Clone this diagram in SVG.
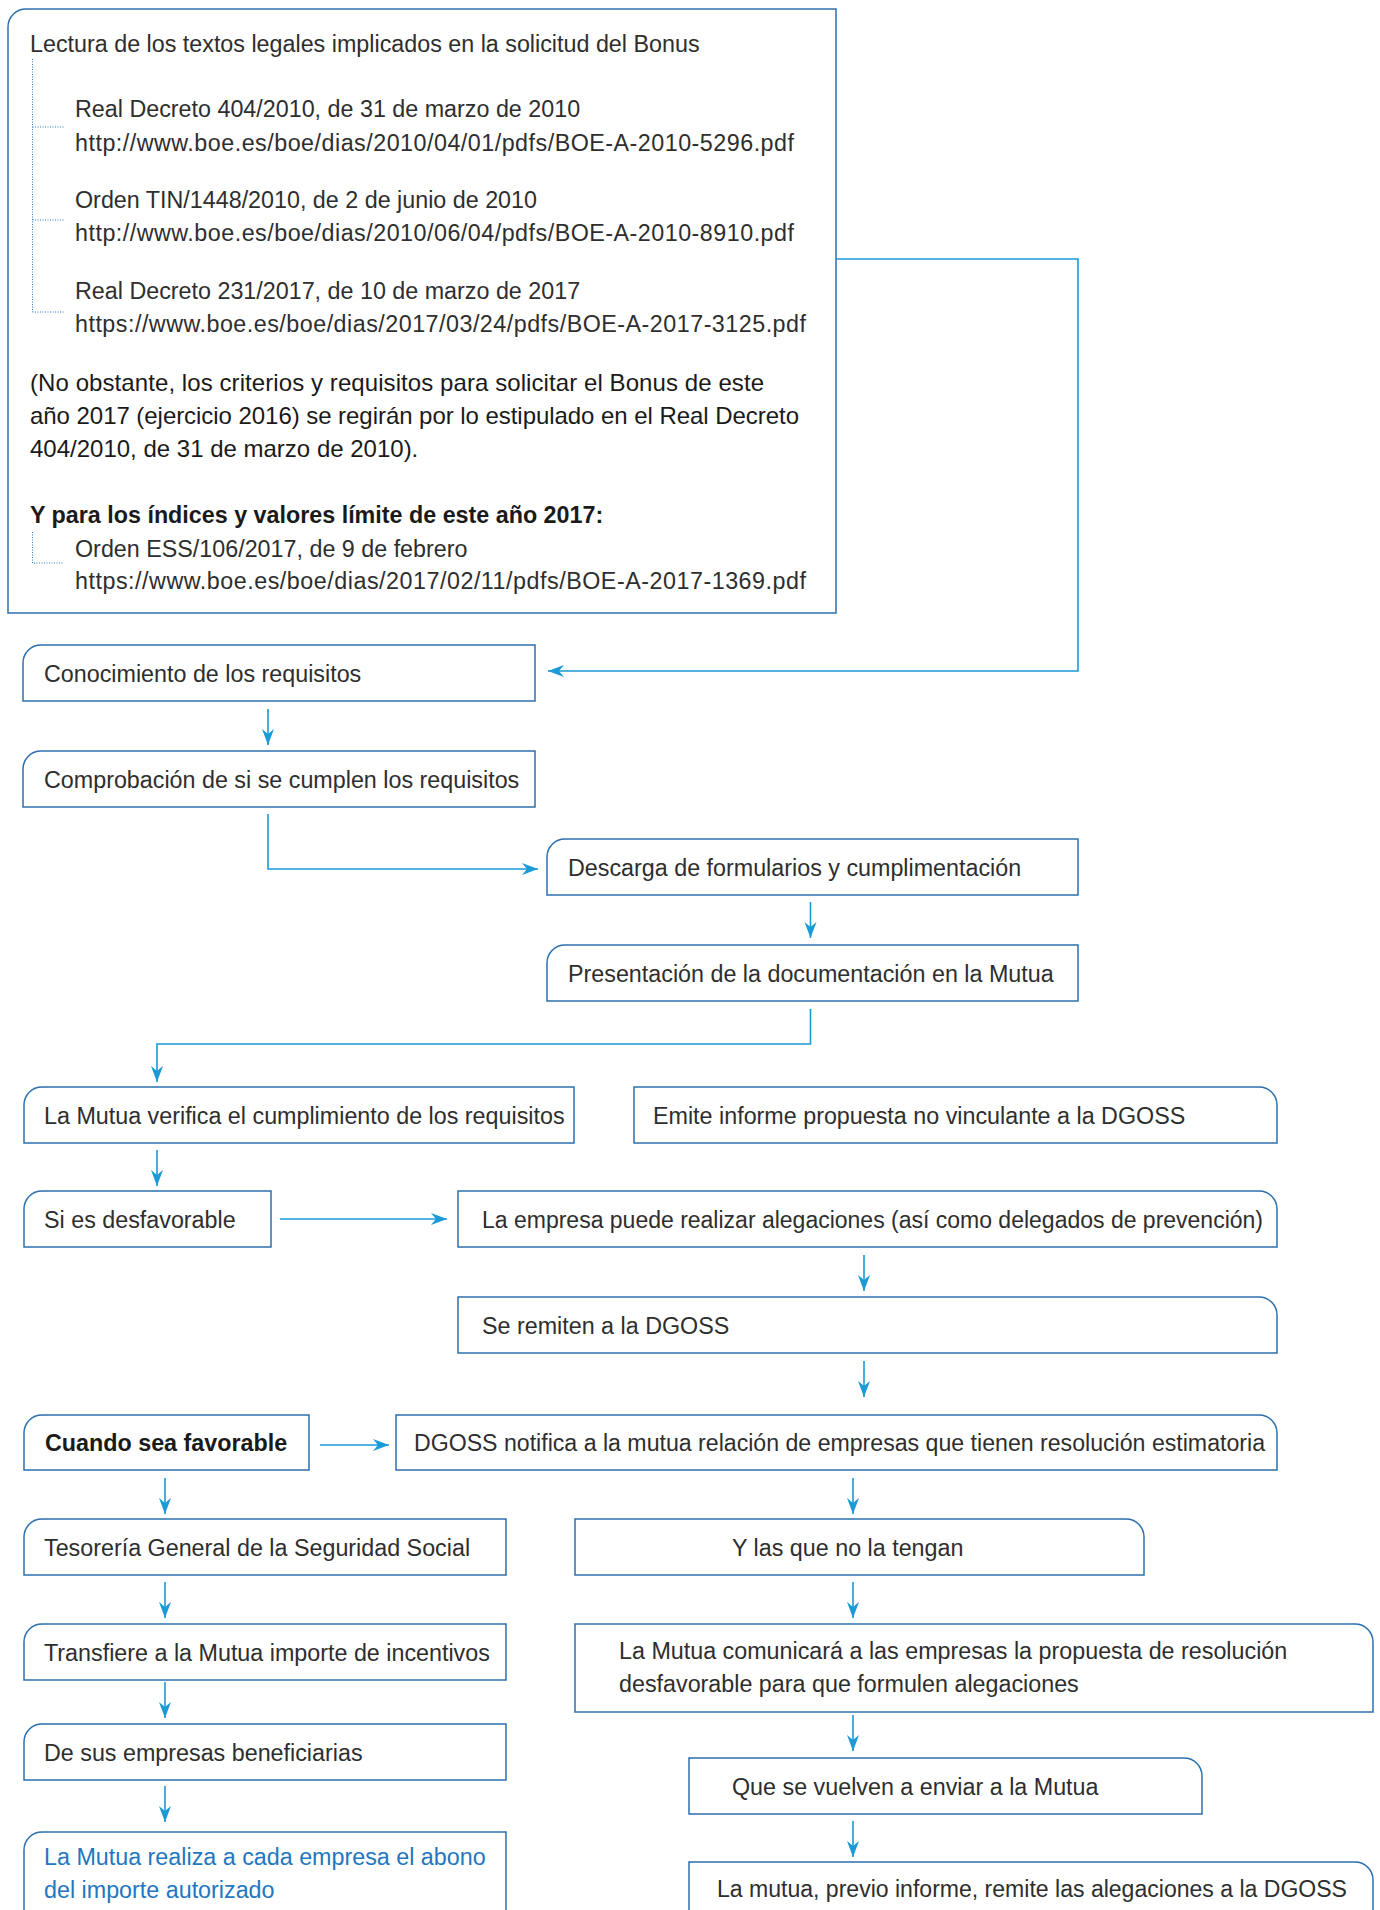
<svg xmlns="http://www.w3.org/2000/svg" width="1380" height="1910" viewBox="0 0 1380 1910">
<defs>
<style>
.box{fill:#ffffff;stroke:#2c6fae;stroke-width:1.5}
.t{font-family:"Liberation Sans",Arial,Helvetica,sans-serif;font-size:23.3px;fill:#2e2e2e}
.p{fill:#1a1a1a;font-size:24px}
.b{font-weight:bold;fill:#1a1a1a}
.blue{fill:#2277c0}
.con{fill:none;stroke:#1a9ad7;stroke-width:1.6}
.dot{fill:none;stroke:#2a7cc4;stroke-width:1;stroke-dasharray:1 1.5}
</style>
<marker id="ah" markerUnits="userSpaceOnUse" markerWidth="20" markerHeight="16" viewBox="-18 -8 20 16" refX="0" refY="0" orient="auto">
<path d="M0,0 L-16,-6 L-11,0 L-16,6 Z" fill="#1a9ad7"/>
</marker>
</defs>

<g id="connectors">
<path class="con" d="M836,259 H1078 V671 H548" marker-end="url(#ah)"/>
<path class="con" d="M268,709 V745" marker-end="url(#ah)"/>
<path class="con" d="M268,814 V869 H538" marker-end="url(#ah)"/>
<path class="con" d="M810.5,902 V938" marker-end="url(#ah)"/>
<path class="con" d="M810.5,1009 V1044 H157 V1082" marker-end="url(#ah)"/>
<path class="con" d="M157,1150 V1186" marker-end="url(#ah)"/>
<path class="con" d="M280,1219 H447" marker-end="url(#ah)"/>
<path class="con" d="M864,1255 V1291" marker-end="url(#ah)"/>
<path class="con" d="M864,1361 V1397" marker-end="url(#ah)"/>
<path class="con" d="M320,1445 H389" marker-end="url(#ah)"/>
<path class="con" d="M165,1478 V1514" marker-end="url(#ah)"/>
<path class="con" d="M853,1478 V1514" marker-end="url(#ah)"/>
<path class="con" d="M165,1582 V1618" marker-end="url(#ah)"/>
<path class="con" d="M853,1582 V1618" marker-end="url(#ah)"/>
<path class="con" d="M165,1682 V1718" marker-end="url(#ah)"/>
<path class="con" d="M853,1715 V1751" marker-end="url(#ah)"/>
<path class="con" d="M165,1786 V1822" marker-end="url(#ah)"/>
<path class="con" d="M853,1821 V1857" marker-end="url(#ah)"/>
</g>

<g id="n-lectura">
<path class="box" d="M8,613 V27 A18,18 0 0 1 26,9 H836 V613 Z"/>
<path class="dot" d="M32.5,59 V312 M32.5,127 H64 M32.5,220 H64 M32.5,312 H64 M32.5,532 V563 H64"/>
<text class="t" x="30" y="52">Lectura de los textos legales implicados en la solicitud del Bonus</text>
<text class="t" x="75" y="117">Real Decreto 404/2010, de 31 de marzo de 2010</text>
<text class="t" x="75" y="151" textLength="719" lengthAdjust="spacing">http://www.boe.es/boe/dias/2010/04/01/pdfs/BOE-A-2010-5296.pdf</text>
<text class="t" x="75" y="208">Orden TIN/1448/2010, de 2 de junio de 2010</text>
<text class="t" x="75" y="241" textLength="719" lengthAdjust="spacing">http://www.boe.es/boe/dias/2010/06/04/pdfs/BOE-A-2010-8910.pdf</text>
<text class="t" x="75" y="299">Real Decreto 231/2017, de 10 de marzo de 2017</text>
<text class="t" x="75" y="332" textLength="731" lengthAdjust="spacing">https://www.boe.es/boe/dias/2017/03/24/pdfs/BOE-A-2017-3125.pdf</text>
<text class="t p" x="30" y="391" textLength="734" lengthAdjust="spacing">(No obstante, los criterios y requisitos para solicitar el Bonus de este</text>
<text class="t p" x="30" y="424" textLength="769" lengthAdjust="spacing">año 2017 (ejercicio 2016) se regirán por lo estipulado en el Real Decreto</text>
<text class="t p" x="30" y="457">404/2010, de 31 de marzo de 2010).</text>
<text class="t b" x="30" y="523">Y para los índices y valores límite de este año 2017:</text>
<text class="t" x="75" y="557">Orden ESS/106/2017, de 9 de febrero</text>
<text class="t" x="75" y="589" textLength="731" lengthAdjust="spacing">https://www.boe.es/boe/dias/2017/02/11/pdfs/BOE-A-2017-1369.pdf</text>
</g>

<g id="n-conocimiento">
<path class="box" d="M23,701 V663 A18,18 0 0 1 41,645 H535 V701 Z"/>
<text class="t" x="44" y="681.5">Conocimiento de los requisitos</text>
</g>

<g id="n-comprobacion">
<path class="box" d="M23,807 V769 A18,18 0 0 1 41,751 H535 V807 Z"/>
<text class="t" x="44" y="787.5">Comprobación de si se cumplen los requisitos</text>
</g>

<g id="n-descarga">
<path class="box" d="M547,895 V857 A18,18 0 0 1 565,839 H1078 V895 Z"/>
<text class="t" x="568" y="875.5">Descarga de formularios y cumplimentación</text>
</g>

<g id="n-presentacion">
<path class="box" d="M547,1001 V963 A18,18 0 0 1 565,945 H1078 V1001 Z"/>
<text class="t" x="568" y="981.5">Presentación de la documentación en la Mutua</text>
</g>

<g id="n-verifica">
<path class="box" d="M24,1143 V1105 A18,18 0 0 1 42,1087 H574 V1143 Z"/>
<text class="t" x="44" y="1123.5">La Mutua verifica el cumplimiento de los requisitos</text>
</g>

<g id="n-emite">
<path class="box" d="M634,1087 H1259 A18,18 0 0 1 1277,1105 V1143 H634 Z"/>
<text class="t" x="653" y="1123.5">Emite informe propuesta no vinculante a la DGOSS</text>
</g>

<g id="n-desfavorable">
<path class="box" d="M24,1247 V1209 A18,18 0 0 1 42,1191 H271 V1247 Z"/>
<text class="t" x="44" y="1227.5">Si es desfavorable</text>
</g>

<g id="n-alegaciones">
<path class="box" d="M458,1191 H1259 A18,18 0 0 1 1277,1209 V1247 H458 Z"/>
<text class="t" x="482" y="1227.5" textLength="781" lengthAdjust="spacingAndGlyphs">La empresa puede realizar alegaciones (así como delegados de prevención)</text>
</g>

<g id="n-remiten">
<path class="box" d="M458,1297 H1259 A18,18 0 0 1 1277,1315 V1353 H458 Z"/>
<text class="t" x="482" y="1333.5">Se remiten a la DGOSS</text>
</g>

<g id="n-favorable">
<path class="box" d="M24,1470 V1433 A18,18 0 0 1 42,1415 H309 V1470 Z"/>
<text class="t b" x="45" y="1451">Cuando sea favorable</text>
</g>

<g id="n-dgoss">
<path class="box" d="M396,1415 H1259 A18,18 0 0 1 1277,1433 V1470 H396 Z"/>
<text class="t" x="414" y="1451" textLength="851" lengthAdjust="spacingAndGlyphs">DGOSS notifica a la mutua relación de empresas que tienen resolución estimatoria</text>
</g>

<g id="n-tesoreria">
<path class="box" d="M24,1575 V1537 A18,18 0 0 1 42,1519 H506 V1575 Z"/>
<text class="t" x="44" y="1555.5">Tesorería General de la Seguridad Social</text>
</g>

<g id="n-nolatengan">
<path class="box" d="M575,1519 H1126 A18,18 0 0 1 1144,1537 V1575 H575 Z"/>
<text class="t" x="732" y="1555.5">Y las que no la tengan</text>
</g>

<g id="n-transfiere">
<path class="box" d="M24,1680 V1642 A18,18 0 0 1 42,1624 H506 V1680 Z"/>
<text class="t" x="44" y="1660.5">Transfiere a la Mutua importe de incentivos</text>
</g>

<g id="n-comunicara">
<path class="box" d="M575,1624 H1355 A18,18 0 0 1 1373,1642 V1712 H575 Z"/>
<text class="t" x="619" y="1658.5">La Mutua comunicará a las empresas la propuesta de resolución</text>
<text class="t" x="619" y="1691.5">desfavorable para que formulen alegaciones</text>
</g>

<g id="n-beneficiarias">
<path class="box" d="M24,1780 V1742 A18,18 0 0 1 42,1724 H506 V1780 Z"/>
<text class="t" x="44" y="1760.5">De sus empresas beneficiarias</text>
</g>

<g id="n-vuelven">
<path class="box" d="M689,1758 H1184 A18,18 0 0 1 1202,1776 V1814 H689 Z"/>
<text class="t" x="732" y="1794.5">Que se vuelven a enviar a la Mutua</text>
</g>

<g id="n-abono">
<path class="box" d="M24,1935 V1850 A18,18 0 0 1 42,1832 H506 V1935 Z"/>
<text class="t blue" x="44" y="1865">La Mutua realiza a cada empresa el abono</text>
<text class="t blue" x="44" y="1898">del importe autorizado</text>
</g>

<g id="n-remite-dgoss">
<path class="box" d="M689,1862 H1355 A18,18 0 0 1 1373,1880 V1935 H689 Z"/>
<text class="t" x="717" y="1897" textLength="630" lengthAdjust="spacingAndGlyphs">La mutua, previo informe, remite las alegaciones a la DGOSS</text>
</g>
</svg>
